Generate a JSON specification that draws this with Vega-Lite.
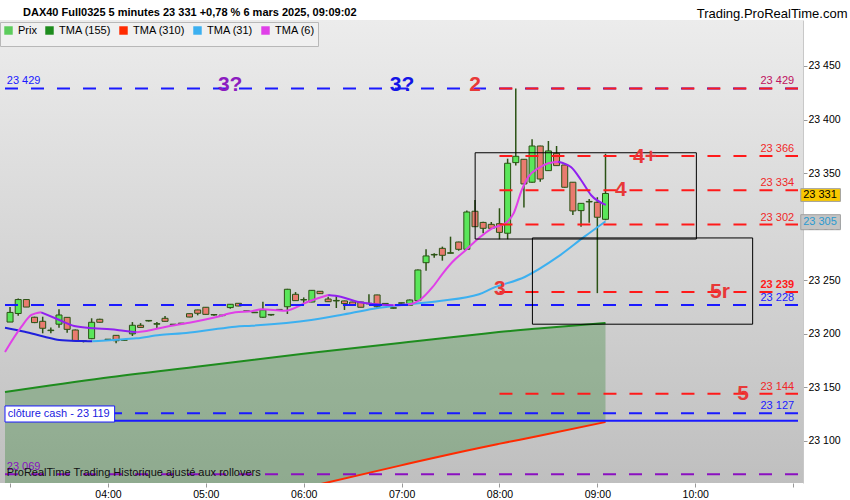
{
  "$schema": "https://vega.github.io/schema/vega-lite/v6.json",
  "width": 803,
  "height": 463,
  "autosize": {"type": "none"},
  "padding": {"left": 0, "top": 20, "right": 47, "bottom": 17},
  "background": "#ffffff",
  "config": {
    "font": "Liberation Sans",
    "view": {
      "stroke": null,
      "fill": {"gradient": "linear", "x1": 0, "y1": 0, "x2": 0, "y2": 1,
        "stops": [{"offset": 0, "color": "#ececec"}, {"offset": 1, "color": "#bfbfbf"}]}
    },
    "axis": {"grid": false, "labelFont": "Liberation Sans", "labelFontSize": 10.5, "labelColor": "#000000", "tickColor": "#999999", "tickSize": 4}
  },
  "title": {
    "text": "DAX40 Full0325 5 minutes 23 331 +0,78 % 6 mars 2025, 09:09:02",
    "anchor": "start", "frame": "group", "dx": 23, "dy": 14, "offset": 3,
    "font": "Liberation Sans", "fontSize": 11, "fontWeight": "bold", "color": "#000000"
  },
  "datasets": {
    "bars": [
      {"t": 180, "o": 23211, "h": 23225, "l": 23211, "c": 23220},
      {"t": 185, "o": 23219, "h": 23233, "l": 23217, "c": 23232},
      {"t": 190, "o": 23232, "h": 23232.5, "l": 23225, "c": 23225},
      {"t": 195, "o": 23215.5, "h": 23216, "l": 23210, "c": 23210.5},
      {"t": 200, "o": 23211.7, "h": 23216, "l": 23200.5, "c": 23205.2},
      {"t": 205, "o": 23203, "h": 23206, "l": 23200.5, "c": 23203.5},
      {"t": 210, "o": 23209, "h": 23223, "l": 23205.7, "c": 23217.6},
      {"t": 215, "o": 23215.4, "h": 23215.5, "l": 23201, "c": 23204.2},
      {"t": 220, "o": 23203.6, "h": 23204, "l": 23193, "c": 23193.6},
      {"t": 225, "o": 23193, "h": 23194, "l": 23192, "c": 23193.5},
      {"t": 230, "o": 23195.5, "h": 23214.5, "l": 23195, "c": 23210.8},
      {"t": 235, "o": 23213.6, "h": 23214, "l": 23210.5, "c": 23210.8},
      {"t": 240, "o": 23194.5, "h": 23195, "l": 23194, "c": 23195},
      {"t": 245, "o": 23198.6, "h": 23199, "l": 23191.2, "c": 23193.6},
      {"t": 250, "o": 23194, "h": 23194.5, "l": 23193.5, "c": 23194.5},
      {"t": 255, "o": 23200, "h": 23211, "l": 23198, "c": 23208},
      {"t": 260, "o": 23208, "h": 23210, "l": 23205.5, "c": 23206},
      {"t": 265, "o": 23212, "h": 23212.5, "l": 23211.5, "c": 23212.5},
      {"t": 270, "o": 23209, "h": 23211, "l": 23205, "c": 23209.5},
      {"t": 275, "o": 23214.5, "h": 23216.7, "l": 23211.5, "c": 23211.7},
      {"t": 280, "o": 23208.5, "h": 23209, "l": 23208, "c": 23209},
      {"t": 285, "o": 23209.5, "h": 23210, "l": 23209, "c": 23210},
      {"t": 290, "o": 23218.8, "h": 23219, "l": 23215.5, "c": 23215.7},
      {"t": 295, "o": 23222.3, "h": 23222.5, "l": 23217.3, "c": 23219.2},
      {"t": 300, "o": 23224.8, "h": 23225, "l": 23218, "c": 23218.2},
      {"t": 305, "o": 23217.6, "h": 23218, "l": 23217, "c": 23218},
      {"t": 310, "o": 23217, "h": 23217.5, "l": 23216.5, "c": 23217.5},
      {"t": 315, "o": 23224.5, "h": 23227.8, "l": 23223.5, "c": 23227.6},
      {"t": 320, "o": 23228.5, "h": 23228.7, "l": 23225.8, "c": 23226},
      {"t": 325, "o": 23221, "h": 23221.5, "l": 23220.5, "c": 23221.5},
      {"t": 330, "o": 23219.7, "h": 23220, "l": 23219.5, "c": 23220.2},
      {"t": 335, "o": 23215.5, "h": 23230, "l": 23215, "c": 23222.3},
      {"t": 340, "o": 23217.6, "h": 23218, "l": 23217, "c": 23218.1},
      {"t": 345, "o": 23222.3, "h": 23222.8, "l": 23222, "c": 23222.8},
      {"t": 350, "o": 23225.3, "h": 23242, "l": 23218.5, "c": 23241.6},
      {"t": 355, "o": 23236.9, "h": 23239, "l": 23231, "c": 23231},
      {"t": 360, "o": 23231.6, "h": 23234, "l": 23228.5, "c": 23232},
      {"t": 365, "o": 23229.7, "h": 23241, "l": 23229.5, "c": 23240.6},
      {"t": 370, "o": 23239.7, "h": 23240, "l": 23237.3, "c": 23237.5},
      {"t": 375, "o": 23232.5, "h": 23234.7, "l": 23230, "c": 23230},
      {"t": 380, "o": 23230.7, "h": 23235.6, "l": 23224.1, "c": 23231.2},
      {"t": 385, "o": 23230.7, "h": 23231, "l": 23222.3, "c": 23228.2},
      {"t": 390, "o": 23229.7, "h": 23230, "l": 23226.7, "c": 23226.7},
      {"t": 395, "o": 23229.7, "h": 23230, "l": 23224.8, "c": 23224.8},
      {"t": 400, "o": 23228, "h": 23237, "l": 23227.5, "c": 23228.5},
      {"t": 405, "o": 23236.3, "h": 23236.5, "l": 23223.5, "c": 23225.3},
      {"t": 410, "o": 23227.9, "h": 23228.3, "l": 23227.5, "c": 23228.4},
      {"t": 415, "o": 23223.9, "h": 23224.2, "l": 23223.5, "c": 23224.4},
      {"t": 420, "o": 23228.5, "h": 23229, "l": 23228, "c": 23229},
      {"t": 425, "o": 23226.7, "h": 23232, "l": 23226.5, "c": 23231.6},
      {"t": 430, "o": 23231, "h": 23260, "l": 23230.5, "c": 23259.6},
      {"t": 435, "o": 23266.4, "h": 23279, "l": 23259, "c": 23272.7},
      {"t": 440, "o": 23273.6, "h": 23275.2, "l": 23271, "c": 23274.1},
      {"t": 445, "o": 23279.8, "h": 23281.4, "l": 23268.3, "c": 23273.3},
      {"t": 450, "o": 23275.2, "h": 23290.7, "l": 23275, "c": 23275.7},
      {"t": 455, "o": 23285.7, "h": 23286, "l": 23277.6, "c": 23278.9},
      {"t": 460, "o": 23278.9, "h": 23315, "l": 23278.5, "c": 23313.7},
      {"t": 465, "o": 23314.4, "h": 23324.9, "l": 23300, "c": 23300},
      {"t": 470, "o": 23304, "h": 23304.5, "l": 23293.9, "c": 23298.5},
      {"t": 475, "o": 23302.2, "h": 23304.4, "l": 23298, "c": 23298.5},
      {"t": 480, "o": 23302.8, "h": 23317.2, "l": 23288.3, "c": 23294.7},
      {"t": 485, "o": 23293.9, "h": 23363.5, "l": 23288.3, "c": 23359.2},
      {"t": 490, "o": 23359.8, "h": 23429, "l": 23357, "c": 23365.7},
      {"t": 495, "o": 23362.9, "h": 23363, "l": 23317.8, "c": 23339.9},
      {"t": 500, "o": 23341.5, "h": 23381.6, "l": 23341, "c": 23375.3},
      {"t": 505, "o": 23375.3, "h": 23375.5, "l": 23342, "c": 23344.5},
      {"t": 510, "o": 23352.3, "h": 23380, "l": 23352, "c": 23370.7},
      {"t": 515, "o": 23368.5, "h": 23375.3, "l": 23357, "c": 23357},
      {"t": 520, "o": 23357.6, "h": 23358, "l": 23336.5, "c": 23336.8},
      {"t": 525, "o": 23341.5, "h": 23341.7, "l": 23311, "c": 23314.7},
      {"t": 530, "o": 23315, "h": 23322, "l": 23300, "c": 23321.8},
      {"t": 535, "o": 23323.1, "h": 23325.9, "l": 23303.7, "c": 23323.6},
      {"t": 540, "o": 23322.8, "h": 23327.5, "l": 23238, "c": 23308.8},
      {"t": 545, "o": 23306.9, "h": 23368, "l": 23306, "c": 23331}
    ],
    "longues": [
      {"t": 176.9, "v": 23145.7, "v1": 22990},
      {"t": 237.4, "v": 23158.8, "v1": 23012},
      {"t": 298, "v": 23170, "v1": 23034},
      {"t": 358.5, "v": 23181.2, "v1": 23055.6},
      {"t": 370.6, "v": 23183.3, "v1": 23059.9},
      {"t": 419, "v": 23191.5, "v1": 23077},
      {"t": 431.2, "v": 23193.5, "v1": 23081.3},
      {"t": 467.5, "v": 23199.7, "v1": 23093.5},
      {"t": 479.6, "v": 23201.7, "v1": 23097.3},
      {"t": 503.8, "v": 23205, "v1": 23104.7},
      {"t": 545, "v": 23210.1, "v1": 23117.7}
    ],
    "tma310": [
      {"t": 176.9, "v": 22990},
      {"t": 237.4, "v": 23012},
      {"t": 298, "v": 23034},
      {"t": 358.5, "v": 23055.6},
      {"t": 370.6, "v": 23059.9},
      {"t": 419, "v": 23077},
      {"t": 431.2, "v": 23081.3},
      {"t": 467.5, "v": 23093.5},
      {"t": 479.6, "v": 23097.3},
      {"t": 503.8, "v": 23104.7},
      {"t": 545, "v": 23117.7}
    ],
    "courtes": [
      {"t": 176.9, "v": 23205.7, "k": "TMA (31) b", "s": "31a"},
      {"t": 189, "v": 23202, "k": "TMA (31) b", "s": "31a"},
      {"t": 201.1, "v": 23197.3, "k": "TMA (31) b", "s": "31a"},
      {"t": 210.2, "v": 23194.3, "k": "TMA (31) b", "s": "31a"},
      {"t": 223.3, "v": 23193.3, "k": "TMA (31) b", "s": "31a"},
      {"t": 230.4, "v": 23193, "k": "TMA (31) b", "s": "31a"},
      {"t": 230.4, "v": 23193, "k": "TMA (31)", "s": "31b"},
      {"t": 243.5, "v": 23194.3, "k": "TMA (31)", "s": "31b"},
      {"t": 257.6, "v": 23195.8, "k": "TMA (31)", "s": "31b"},
      {"t": 271.8, "v": 23198.9, "k": "TMA (31)", "s": "31b"},
      {"t": 285.9, "v": 23200.5, "k": "TMA (31)", "s": "31b"},
      {"t": 302, "v": 23203.6, "k": "TMA (31)", "s": "31b"},
      {"t": 318.1, "v": 23206.7, "k": "TMA (31)", "s": "31b"},
      {"t": 328.2, "v": 23207.6, "k": "TMA (31)", "s": "31b"},
      {"t": 364.6, "v": 23212.9, "k": "TMA (31)", "s": "31b"},
      {"t": 382.7, "v": 23217.6, "k": "TMA (31)", "s": "31b"},
      {"t": 402.9, "v": 23223.5, "k": "TMA (31)", "s": "31b"},
      {"t": 423.1, "v": 23227.5, "k": "TMA (31)", "s": "31b"},
      {"t": 443.3, "v": 23230.7, "k": "TMA (31)", "s": "31b"},
      {"t": 467.5, "v": 23236.9, "k": "TMA (31)", "s": "31b"},
      {"t": 475.5, "v": 23242.5, "k": "TMA (31)", "s": "31b"},
      {"t": 495.8, "v": 23253.3, "k": "TMA (31)", "s": "31b"},
      {"t": 515.9, "v": 23272, "k": "TMA (31)", "s": "31b"},
      {"t": 532.1, "v": 23290.7, "k": "TMA (31)", "s": "31b"},
      {"t": 545, "v": 23305, "k": "TMA (31)", "s": "31b"},
      {"t": 176.9, "v": 23183.1, "k": "TMA (6)", "s": "6a"},
      {"t": 187, "v": 23206.7, "k": "TMA (6)", "s": "6a"},
      {"t": 193.1, "v": 23217.6, "k": "TMA (6)", "s": "6a"},
      {"t": 199.1, "v": 23220.1, "k": "TMA (6)", "s": "6a"},
      {"t": 199.1, "v": 23220.1, "k": "TMA (6) b", "s": "6b"},
      {"t": 209.2, "v": 23213.6, "k": "TMA (6) b", "s": "6b"},
      {"t": 219.3, "v": 23207.3, "k": "TMA (6) b", "s": "6b"},
      {"t": 231.4, "v": 23205.2, "k": "TMA (6) b", "s": "6b"},
      {"t": 241.5, "v": 23204.3, "k": "TMA (6) b", "s": "6b"},
      {"t": 249.5, "v": 23202.9, "k": "TMA (6) b", "s": "6b"},
      {"t": 257.6, "v": 23201.5, "k": "TMA (6) b", "s": "6b"},
      {"t": 257.6, "v": 23201.5, "k": "TMA (6)", "s": "6c"},
      {"t": 263.7, "v": 23202.7, "k": "TMA (6)", "s": "6c"},
      {"t": 275.8, "v": 23206.7, "k": "TMA (6)", "s": "6c"},
      {"t": 289.9, "v": 23210.4, "k": "TMA (6)", "s": "6c"},
      {"t": 306, "v": 23215.5, "k": "TMA (6)", "s": "6c"},
      {"t": 318.1, "v": 23220.1, "k": "TMA (6)", "s": "6c"},
      {"t": 328.2, "v": 23221.1, "k": "TMA (6)", "s": "6c"},
      {"t": 334.3, "v": 23222.9, "k": "TMA (6)", "s": "6c"},
      {"t": 348.4, "v": 23221.6, "k": "TMA (6)", "s": "6c"},
      {"t": 362.6, "v": 23230, "k": "TMA (6)", "s": "6c"},
      {"t": 375, "v": 23236.3, "k": "TMA (6)", "s": "6c"},
      {"t": 375, "v": 23236.3, "k": "TMA (6) b", "s": "6d"},
      {"t": 382.7, "v": 23234.7, "k": "TMA (6) b", "s": "6d"},
      {"t": 392.8, "v": 23230, "k": "TMA (6) b", "s": "6d"},
      {"t": 402.9, "v": 23227.9, "k": "TMA (6) b", "s": "6d"},
      {"t": 415, "v": 23226.6, "k": "TMA (6) b", "s": "6d"},
      {"t": 415, "v": 23226.6, "k": "TMA (6)", "s": "6e"},
      {"t": 425.1, "v": 23227.6, "k": "TMA (6)", "s": "6e"},
      {"t": 431.2, "v": 23231.6, "k": "TMA (6)", "s": "6e"},
      {"t": 439.2, "v": 23244, "k": "TMA (6)", "s": "6e"},
      {"t": 445.3, "v": 23256.5, "k": "TMA (6)", "s": "6e"},
      {"t": 451.3, "v": 23267.3, "k": "TMA (6)", "s": "6e"},
      {"t": 459.4, "v": 23278.3, "k": "TMA (6)", "s": "6e"},
      {"t": 467.5, "v": 23289.5, "k": "TMA (6)", "s": "6e"},
      {"t": 475.5, "v": 23298.5, "k": "TMA (6)", "s": "6e"},
      {"t": 483.7, "v": 23303.2, "k": "TMA (6)", "s": "6e"},
      {"t": 488.7, "v": 23312.5, "k": "TMA (6)", "s": "6e"},
      {"t": 493.7, "v": 23334.3, "k": "TMA (6)", "s": "6e"},
      {"t": 497.8, "v": 23346.7, "k": "TMA (6)", "s": "6e"},
      {"t": 503.8, "v": 23354.5, "k": "TMA (6)", "s": "6e"},
      {"t": 509.9, "v": 23359.2, "k": "TMA (6)", "s": "6e"},
      {"t": 515.9, "v": 23360.7, "k": "TMA (6)", "s": "6e"},
      {"t": 515.9, "v": 23360.7, "k": "TMA (6) b", "s": "6f"},
      {"t": 524, "v": 23355.5, "k": "TMA (6) b", "s": "6f"},
      {"t": 530, "v": 23343.6, "k": "TMA (6) b", "s": "6f"},
      {"t": 536.1, "v": 23329.6, "k": "TMA (6) b", "s": "6f"},
      {"t": 545.2, "v": 23320.3, "k": "TMA (6) b", "s": "6f"}
    ],
    "niveaux": [
      {"t": 176.9, "t1": 663, "v": 23429, "k": "b", "d": "t"},
      {"t": 480, "t1": 663, "v": 23429, "k": "r", "d": "t"},
      {"t": 480, "t1": 663, "v": 23366, "k": "r", "d": "t"},
      {"t": 480, "t1": 663, "v": 23334, "k": "r", "d": "t"},
      {"t": 480, "t1": 663, "v": 23302, "k": "r", "d": "t"},
      {"t": 480, "t1": 663, "v": 23239, "k": "r", "d": "t"},
      {"t": 176.9, "t1": 663, "v": 23227, "k": "b", "d": "t"},
      {"t": 480, "t1": 663, "v": 23144, "k": "r", "d": "t"},
      {"t": 176.9, "t1": 663, "v": 23126, "k": "b", "d": "t"},
      {"t": 176.9, "t1": 663, "v": 23119, "k": "b", "d": "p"},
      {"t": 176.9, "t1": 663, "v": 23069, "k": "v", "d": "t"}
    ],
    "cadres": [
      {"t": 465.1, "t1": 600.7, "v": 23369, "v1": 23288.5},
      {"t": 500.2, "t1": 635.2, "v": 23289.5, "v1": 23209}
    ],
    "etiquettes": [
      {"t": 640, "v": 23429, "txt": "23 429", "k": "m"},
      {"t": 640, "v": 23366, "txt": "23 366", "k": "r"},
      {"t": 640, "v": 23334, "txt": "23 334", "k": "r"},
      {"t": 640, "v": 23302, "txt": "23 302", "k": "r"},
      {"t": 640, "v": 23227, "txt": "23 228", "k": "b"},
      {"t": 640, "v": 23144, "txt": "23 144", "k": "r"},
      {"t": 640, "v": 23126, "txt": "23 127", "k": "b"},
      {"t": 178, "v": 23429, "txt": "23 429", "k": "b"},
      {"t": 178, "v": 23069, "txt": "23 069", "k": "v"},
      {"t": 178, "v": 23063.6, "txt": "ProRealTime Trading  Historique ajusté aux rollovers", "k": "n"}
    ],
    "gras": [
      {"t": 640, "v": 23239, "txt": "23 239"}
    ],
    "vagues": [
      {"t": 465.1, "v": 23431.8, "txt": "2", "k": "r"},
      {"t": 314.9, "v": 23432.3, "txt": "3?", "k": "v"},
      {"t": 420.3, "v": 23432.3, "txt": "3?", "k": "b"},
      {"t": 569.2, "v": 23365.1, "txt": "4+", "k": "r"},
      {"t": 554.4, "v": 23334.3, "txt": "4", "k": "r"},
      {"t": 480.2, "v": 23241.9, "txt": "3", "k": "r"},
      {"t": 615.2, "v": 23238.6, "txt": "5r", "k": "r"},
      {"t": 629.4, "v": 23143.9, "txt": "5", "k": "r"}
    ],
    "cash": [
      {"t": 176.9, "t1": 244.1, "v": 23132.7, "v1": 23117.7}
    ],
    "cashtxt": [
      {"t": 178.6, "v": 23125.2, "txt": "clôture cash -  23 119"}
    ],
    "prix": [
      {"t": 664.7, "t1": 689, "v": 23335.5, "v1": 23323.6, "k": "y"},
      {"t": 664.7, "t1": 689, "v": 23311.2, "v1": 23297.2, "k": "g"}
    ],
    "prixtxt": [
      {"t": 676.5, "v": 23329.5, "k": "y", "txt": "23 331"},
      {"t": 676.5, "v": 23304.2, "k": "g", "txt": "23 305"}
    ]
  },
  "encoding": {
    "x": {
      "field": "t", "type": "quantitative",
      "scale": {"domain": [176.9, 663], "nice": false, "zero": false},
      "axis": {
        "title": null, "domain": false,
        "values": [180, 240, 300, 360, 420, 480, 540, 600, 660],
        "labelExpr": "datum.value < 200 || datum.value > 640 ? '' : (datum.value < 600 ? '0' : '') + floor(datum.value / 60) + ':00'",
        "labelPadding": 2
      }
    },
    "y": {
      "field": "v", "type": "quantitative",
      "scale": {"domain": [23060.8, 23492.9], "nice": false, "zero": false},
      "axis": {
        "orient": "right",
        "values": [23100, 23150, 23200, 23250, 23300, 23350, 23400, 23450],
        "labelExpr": "'23 ' + substring(toString(datum.value), 2, 5)",
        "labelPadding": 1, "tickSize": 4,
        "domain": true, "domainColor": "#c8c8c8",
        "title": "Trading.ProRealTime.com",
        "titleAngle": 0, "titleAlign": "right", "titleBaseline": "alphabetic",
        "titleX": 44, "titleY": -3,
        "titleFont": "Liberation Sans", "titleFontSize": 13, "titleFontWeight": "normal", "titleColor": "#000000"
      }
    }
  },
  "layer": [
    {
      "data": {"name": "longues"},
      "mark": {"type": "area", "color": "#207a20", "opacity": 0.3, "clip": true},
      "encoding": {"y2": {"field": "v1"}}
    },
    {
      "data": {"name": "longues"},
      "mark": {"type": "line", "color": "#1e8c1e", "strokeWidth": 2, "clip": true, "interpolate": "monotone"}
    },
    {
      "data": {"name": "tma310"},
      "mark": {"type": "line", "color": "#ff2a00", "strokeWidth": 2, "clip": true, "interpolate": "monotone"}
    },
    {
      "data": {"name": "bars"},
      "mark": {"type": "rule", "color": "#2b5214", "strokeWidth": 1.5},
      "encoding": {
        "y": {
          "field": "l", "type": "quantitative",
          "scale": {"domain": [23060.8, 23492.9], "nice": false, "zero": false},
          "axis": {
            "orient": "right",
            "values": [23100, 23150, 23200, 23250, 23300, 23350, 23400, 23450],
            "labelExpr": "'23 ' + substring(toString(datum.value), 2, 5)",
            "labelPadding": 1, "tickSize": 4,
            "domain": true, "domainColor": "#c8c8c8",
            "title": "Trading.ProRealTime.com",
            "titleAngle": 0, "titleAlign": "right", "titleBaseline": "alphabetic",
            "titleX": 44, "titleY": -3,
            "titleFont": "Liberation Sans", "titleFontSize": 13, "titleFontWeight": "normal", "titleColor": "#000000"
          }
        },
        "y2": {"field": "h"}
      }
    },
    {
      "data": {"name": "bars"},
      "mark": {"type": "bar", "width": 6, "stroke": "#2b5214", "strokeWidth": 1},
      "encoding": {
        "y": {
          "field": "o", "type": "quantitative",
          "scale": {"domain": [23060.8, 23492.9], "nice": false, "zero": false},
          "axis": {
            "orient": "right",
            "values": [23100, 23150, 23200, 23250, 23300, 23350, 23400, 23450],
            "labelExpr": "'23 ' + substring(toString(datum.value), 2, 5)",
            "labelPadding": 1, "tickSize": 4,
            "domain": true, "domainColor": "#c8c8c8",
            "title": "Trading.ProRealTime.com",
            "titleAngle": 0, "titleAlign": "right", "titleBaseline": "alphabetic",
            "titleX": 44, "titleY": -3,
            "titleFont": "Liberation Sans", "titleFontSize": 13, "titleFontWeight": "normal", "titleColor": "#000000"
          }
        },
        "y2": {"field": "c"},
        "color": {"condition": {"test": "datum.c >= datum.o", "value": "#5ae65a"}, "value": "#e97b6f"}
      }
    },
    {
      "data": {"name": "courtes"},
      "mark": {"type": "line", "strokeWidth": 2, "clip": true, "interpolate": "monotone"},
      "encoding": {
        "detail": {"field": "s"},
        "order": {"field": "t", "type": "quantitative"},
        "color": {
          "field": "k", "type": "nominal",
          "scale": {
            "domain": ["Prix", "TMA (155)", "TMA (310)", "TMA (31)", "TMA (6)", "TMA (31) b", "TMA (6) b"],
            "range": ["#5ccc5c", "#1e8c1e", "#ff2a00", "#3cb0f0", "#e040e8", "#2020dc", "#9020f0"]
          },
          "legend": {
            "values": ["Prix", "TMA (155)", "TMA (310)", "TMA (31)", "TMA (6)"],
            "title": null, "orient": "none", "legendX": 0, "legendY": 2, "direction": "horizontal",
            "gridAlign": "none",
            "symbolType": "square", "symbolSize": 12, "symbolStrokeWidth": 5,
            "labelFont": "Liberation Sans", "labelFontSize": 11, "labelColor": "#000000", "labelOffset": 4,
            "columnPadding": 0, "padding": 3, "rowPadding": 0,
            "fillColor": "#f0f0f0", "strokeColor": "#b8b8b8"
          }
        }
      }
    },
    {
      "data": {"name": "niveaux"},
      "mark": {"type": "rule", "strokeWidth": 2},
      "encoding": {
        "x2": {"field": "t1"},
        "color": {"field": "k", "type": "nominal", "scale": {"domain": ["b", "r", "v"], "range": ["#1a1aff", "#ff1a1a", "#8a10c0"]}, "legend": null},
        "strokeDash": {"field": "d", "type": "nominal", "scale": {"domain": ["t", "p"], "range": [[13, 13], [1, 0]]}, "legend": null}
      }
    },
    {
      "data": {"name": "cadres"},
      "mark": {"type": "rect", "fill": null, "stroke": "#000000", "strokeWidth": 1},
      "encoding": {"x2": {"field": "t1"}, "y2": {"field": "v1"}}
    },
    {
      "data": {"name": "etiquettes"},
      "mark": {"type": "text", "align": "left", "baseline": "bottom", "dy": -2, "fontSize": 11},
      "encoding": {
        "text": {"field": "txt"},
        "color": {"field": "k", "type": "nominal", "scale": {"domain": ["r", "b", "m", "v", "n"], "range": ["#f02828", "#1a1aff", "#c01060", "#8a10c0", "#111111"]}, "legend": null}
      }
    },
    {
      "data": {"name": "gras"},
      "mark": {"type": "text", "align": "left", "baseline": "bottom", "dy": -2, "fontSize": 11, "fontWeight": "bold", "color": "#ff1a1a"},
      "encoding": {"text": {"field": "txt"}}
    },
    {
      "data": {"name": "vagues"},
      "mark": {"type": "text", "align": "center", "baseline": "middle", "fontSize": 21, "fontWeight": "bold"},
      "encoding": {
        "text": {"field": "txt"},
        "color": {"field": "k", "type": "nominal", "scale": {"domain": ["r", "v", "b"], "range": ["#e83838", "#8c1cc0", "#1414e6"]}, "legend": null}
      }
    },
    {
      "data": {"name": "cash"},
      "mark": {"type": "rect", "fill": "#ffffff", "stroke": "#1a1aff", "strokeWidth": 1},
      "encoding": {"x2": {"field": "t1"}, "y2": {"field": "v1"}}
    },
    {
      "data": {"name": "cashtxt"},
      "mark": {"type": "text", "align": "left", "baseline": "middle", "fontSize": 11, "color": "#1a1ae0"},
      "encoding": {"text": {"field": "txt"}}
    },
    {
      "data": {"name": "prix"},
      "mark": {"type": "rect", "stroke": "#a0a0a0", "strokeWidth": 1, "clip": false},
      "encoding": {
        "x2": {"field": "t1"}, "y2": {"field": "v1"},
        "color": {"field": "k", "type": "nominal", "scale": {"domain": ["y", "g"], "range": ["#f8c800", "#c4c4c4"]}, "legend": null}
      }
    },
    {
      "data": {"name": "prixtxt"},
      "mark": {"type": "text", "align": "center", "baseline": "middle", "fontSize": 11},
      "encoding": {
        "text": {"field": "txt"},
        "color": {"field": "k", "type": "nominal", "scale": {"domain": ["y", "g"], "range": ["#000000", "#2a9ad0"]}, "legend": null}
      }
    }
  ],
  "resolve": {"scale": {"color": "independent", "strokeDash": "independent"}}
}
